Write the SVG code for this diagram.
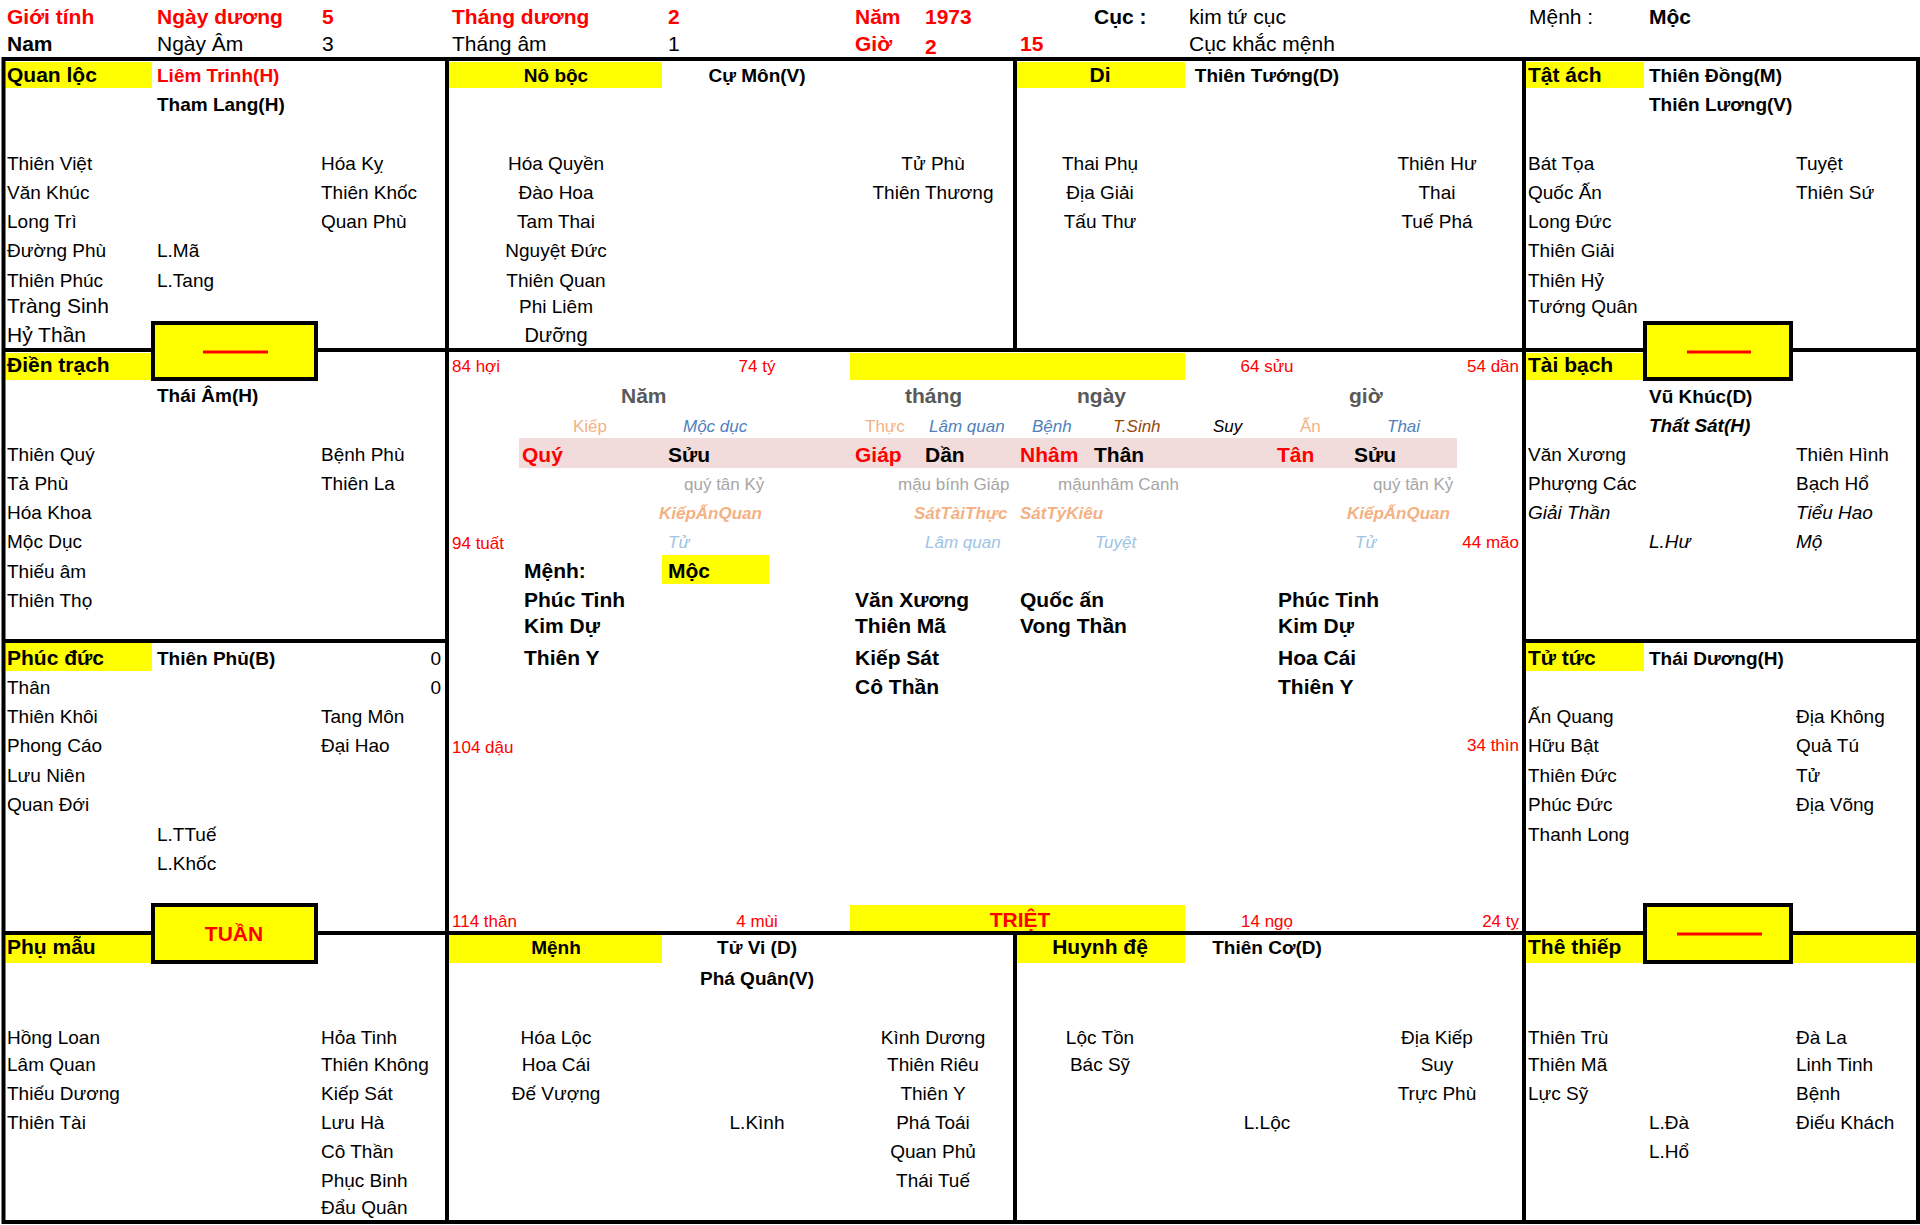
<svg xmlns="http://www.w3.org/2000/svg" width="1920" height="1225" viewBox="0 0 1920 1225">
<style>
text{font-family:"Liberation Sans",Arial,"DejaVu Sans",sans-serif;font-size:19px;fill:#000}
.b{font-weight:bold}
.L{font-size:21px}
.H{font-size:21px}
.s{font-size:17px}
.r{fill:#ff0000}
.c{text-anchor:middle}
.e{text-anchor:end}
.i{font-style:italic}
.g{fill:#595959}
.gl{fill:#a6a6a6}
.or{fill:#f4b183}
.bl{fill:#4f81bd}
.lb{fill:#9dc3e6}
.br{fill:#974706}
.y{fill:#ffff00}
.ln{stroke:#000;stroke-width:4;fill:none}
.bx{fill:#ffff00;stroke:#000;stroke-width:4}
.rl{stroke:#ff0000;stroke-width:3}
</style>
<rect width="1920" height="1225" fill="#fff"/>

<g id="header">
<text class="H b r" x="7" y="24">Giới tính</text>
<text class="H b r" x="157" y="24">Ngày dương</text>
<text class="H b r" x="322" y="24">5</text>
<text class="H b r" x="452" y="24">Tháng dương</text>
<text class="H b r" x="668" y="24">2</text>
<text class="H b r" x="855" y="24">Năm</text>
<text class="H b r" x="925" y="24">1973</text>
<text class="H b" x="1094" y="24">Cục :</text>
<text class="H" x="1189" y="24">kim tứ cục</text>
<text class="H" x="1529" y="24">Mệnh :</text>
<text class="H b" x="1649" y="24">Mộc</text>
<text class="H b" x="7" y="51">Nam</text>
<text class="H" x="157" y="51">Ngày Âm</text>
<text class="H" x="322" y="51">3</text>
<text class="H" x="452" y="51">Tháng âm</text>
<text class="H" x="668" y="51">1</text>
<text class="H b r" x="855" y="51">Giờ</text>
<text class="H b r" x="925" y="54">2</text>
<text class="H b r" x="1020" y="51">15</text>
<text class="H" x="1189" y="51">Cục khắc mệnh</text>
</g>

<g id="label-fills">
<rect class="y" x="5" y="62" width="147" height="26"/>
<rect class="y" x="449" y="62" width="213" height="26"/>
<rect class="y" x="1017" y="62" width="168" height="26"/>
<rect class="y" x="1526" y="62" width="118" height="26"/>
<rect class="y" x="5" y="353" width="147" height="27"/>
<rect class="y" x="850" y="353" width="335" height="27"/>
<rect class="y" x="1526" y="353" width="118" height="27"/>
<rect class="y" x="5" y="643" width="147" height="28"/>
<rect class="y" x="1526" y="643" width="118" height="28"/>
<rect class="y" x="850" y="905" width="335" height="27"/>
<rect class="y" x="5" y="935" width="147" height="28"/>
<rect class="y" x="449" y="935" width="213" height="28"/>
<rect class="y" x="1017" y="935" width="168" height="28"/>
<rect class="y" x="1526" y="935" width="391" height="28"/>
<rect x="519" y="438" width="938" height="30" fill="#f2dcdb"/>
<rect class="y" x="662" y="555" width="107" height="29"/>
</g>

<g id="grid-lines">
<rect class="ln" x="3.5" y="59" width="1914.5" height="1163"/>
<line class="ln" x1="447" y1="59" x2="447" y2="1222"/>
<line class="ln" x1="1524" y1="59" x2="1524" y2="1222"/>
<line class="ln" x1="1015" y1="59" x2="1015" y2="350"/>
<line class="ln" x1="1015" y1="933" x2="1015" y2="1222"/>
<line class="ln" x1="3.5" y1="350" x2="1918" y2="350"/>
<line class="ln" x1="3.5" y1="933" x2="1918" y2="933"/>
<line class="ln" x1="3.5" y1="641" x2="447" y2="641"/>
<line class="ln" x1="1524" y1="641" x2="1918" y2="641"/>
</g>

<g id="box-dientrach">
<rect class="bx" x="153" y="323" width="163" height="56"/>
<line class="rl" x1="203" y1="352" x2="268" y2="352"/>
</g>
<g id="box-taibach">
<rect class="bx" x="1645" y="323" width="146" height="56"/>
<line class="rl" x1="1687" y1="352" x2="1751" y2="352"/>
</g>
<g id="box-tuan">
<rect class="bx" x="153" y="905" width="163" height="57"/>
<text class="H b r c" x="234" y="941">TUẦN</text>
</g>
<g id="box-thethiep">
<rect class="bx" x="1645" y="905" width="146" height="57"/>
<line class="rl" x1="1677" y1="934" x2="1762" y2="934"/>
</g>
<g id="triet">
<text class="H b r c" x="1020" y="927">TRIỆT</text>
</g>

<g id="p-quanloc">
<text class="L b" x="7" y="82">Quan lộc</text>
<text class="b r" x="157" y="82">Liêm Trinh(H)</text>
<text class="b" x="157" y="111">Tham Lang(H)</text>
<text x="7" y="170">Thiên Việt</text>
<text x="7" y="199">Văn Khúc</text>
<text x="7" y="228">Long Trì</text>
<text x="7" y="257">Đường Phù</text>
<text x="7" y="287">Thiên Phúc</text>
<text class="L" x="7" y="313">Tràng Sinh</text>
<text class="L" x="7" y="342">Hỷ Thần</text>
<text x="157" y="257">L.Mã</text>
<text x="157" y="287">L.Tang</text>
<text x="321" y="170">Hóa Kỵ</text>
<text x="321" y="199">Thiên Khốc</text>
<text x="321" y="228">Quan Phù</text>
</g>

<g id="p-noboc">
<text class="b c" x="556" y="82">Nô bộc</text>
<text class="b c" x="757" y="82">Cự Môn(V)</text>
<text class="c" x="556" y="170">Hóa Quyền</text>
<text class="c" x="556" y="199">Đào Hoa</text>
<text class="c" x="556" y="228">Tam Thai</text>
<text class="c" x="556" y="257">Nguyệt Đức</text>
<text class="c" x="556" y="287">Thiên Quan</text>
<text class="c" x="556" y="313">Phi Liêm</text>
<text class="c" x="556" y="342" style="font-size:20px">Dưỡng</text>
<text class="c" x="933" y="170">Tử Phù</text>
<text class="c" x="933" y="199">Thiên Thương</text>
</g>

<g id="p-di">
<text class="L b c" x="1100" y="82">Di</text>
<text class="b c" x="1267" y="82">Thiên Tướng(D)</text>
<text class="c" x="1100" y="170">Thai Phụ</text>
<text class="c" x="1100" y="199">Địa Giải</text>
<text class="c" x="1100" y="228">Tấu Thư</text>
<text class="c" x="1437" y="170">Thiên Hư</text>
<text class="c" x="1437" y="199">Thai</text>
<text class="c" x="1437" y="228">Tuế Phá</text>
</g>

<g id="p-tatach">
<text class="L b" x="1528" y="82">Tật ách</text>
<text class="b" x="1649" y="82">Thiên Đồng(M)</text>
<text class="b" x="1649" y="111">Thiên Lương(V)</text>
<text x="1528" y="170">Bát Tọa</text>
<text x="1528" y="199">Quốc Ấn</text>
<text x="1528" y="228">Long Đức</text>
<text x="1528" y="257">Thiên Giải</text>
<text x="1528" y="287">Thiên Hỷ</text>
<text x="1528" y="313">Tướng Quân</text>
<text x="1796" y="170">Tuyệt</text>
<text x="1796" y="199">Thiên Sứ</text>
</g>

<g id="p-dientrach">
<text class="L b" x="7" y="372">Điền trạch</text>
<text class="b" x="157" y="402">Thái Âm(H)</text>
<text x="7" y="461">Thiên Quý</text>
<text x="7" y="490">Tả Phù</text>
<text x="7" y="519">Hóa Khoa</text>
<text x="7" y="548">Mộc Dục</text>
<text x="7" y="578">Thiếu âm</text>
<text x="7" y="607">Thiên Thọ</text>
<text x="321" y="461">Bệnh Phù</text>
<text x="321" y="490">Thiên La</text>
</g>

<g id="p-taibach">
<text class="L b" x="1528" y="372">Tài bạch</text>
<text class="b" x="1649" y="403">Vũ Khúc(D)</text>
<text class="b i" x="1649" y="432">Thất Sát(H)</text>
<text x="1528" y="461">Văn Xương</text>
<text x="1528" y="490">Phượng Các</text>
<text class="i" x="1528" y="519">Giải Thần</text>
<text class="i" x="1649" y="548">L.Hư</text>
<text x="1796" y="461">Thiên Hình</text>
<text x="1796" y="490">Bạch Hổ</text>
<text class="i" x="1796" y="519">Tiểu Hao</text>
<text class="i" x="1796" y="548">Mộ</text>
</g>

<g id="p-phucduc">
<text class="L b" x="7" y="665">Phúc đức</text>
<text class="b" x="157" y="665">Thiên Phủ(B)</text>
<text class="e" x="441" y="665">0</text>
<text x="7" y="694">Thân</text>
<text class="e" x="441" y="694">0</text>
<text x="7" y="723">Thiên Khôi</text>
<text x="7" y="752">Phong Cáo</text>
<text x="7" y="782">Lưu Niên</text>
<text x="7" y="811">Quan Đới</text>
<text x="157" y="841">L.TTuế</text>
<text x="157" y="870">L.Khốc</text>
<text x="321" y="723">Tang Môn</text>
<text x="321" y="752">Đại Hao</text>
</g>

<g id="p-tutuc">
<text class="L b" x="1528" y="665">Tử tức</text>
<text class="b" x="1649" y="665">Thái Dương(H)</text>
<text x="1528" y="723">Ấn Quang</text>
<text x="1528" y="752">Hữu Bật</text>
<text x="1528" y="782">Thiên Đức</text>
<text x="1528" y="811">Phúc Đức</text>
<text x="1528" y="841">Thanh Long</text>
<text x="1796" y="723">Địa Không</text>
<text x="1796" y="752">Quả Tú</text>
<text x="1796" y="782">Tử</text>
<text x="1796" y="811">Địa Võng</text>
</g>

<g id="p-phumau">
<text class="L b" x="7" y="954">Phụ mẫu</text>
<text x="7" y="1044">Hồng Loan</text>
<text x="7" y="1071">Lâm Quan</text>
<text x="7" y="1100">Thiếu Dương</text>
<text x="7" y="1129">Thiên Tài</text>
<text x="321" y="1044">Hỏa Tinh</text>
<text x="321" y="1071">Thiên Không</text>
<text x="321" y="1100">Kiếp Sát</text>
<text x="321" y="1129">Lưu Hà</text>
<text x="321" y="1158">Cô Thần</text>
<text x="321" y="1187">Phục Binh</text>
<text x="321" y="1214">Đẩu Quân</text>
</g>

<g id="p-menh">
<text class="b c" x="556" y="954">Mệnh</text>
<text class="b c" x="757" y="954">Tử Vi (D)</text>
<text class="b c" x="757" y="985">Phá Quân(V)</text>
<text class="c" x="556" y="1044">Hóa Lộc</text>
<text class="c" x="556" y="1071">Hoa Cái</text>
<text class="c" x="556" y="1100">Đế Vượng</text>
<text class="c" x="757" y="1129">L.Kình</text>
<text class="c" x="933" y="1044">Kình Dương</text>
<text class="c" x="933" y="1071">Thiên Riêu</text>
<text class="c" x="933" y="1100">Thiên Y</text>
<text class="c" x="933" y="1129">Phá Toái</text>
<text class="c" x="933" y="1158">Quan Phủ</text>
<text class="c" x="933" y="1187">Thái Tuế</text>
</g>

<g id="p-huynhde">
<text class="L b c" x="1100" y="954">Huynh đệ</text>
<text class="b c" x="1267" y="954">Thiên Cơ(D)</text>
<text class="c" x="1100" y="1044">Lộc Tồn</text>
<text class="c" x="1100" y="1071">Bác Sỹ</text>
<text class="c" x="1267" y="1129">L.Lộc</text>
<text class="c" x="1437" y="1044">Địa Kiếp</text>
<text class="c" x="1437" y="1071">Suy</text>
<text class="c" x="1437" y="1100">Trực Phù</text>
</g>

<g id="p-thethiep">
<text class="L b" x="1528" y="954">Thê thiếp</text>
<text x="1528" y="1044">Thiên Trù</text>
<text x="1528" y="1071">Thiên Mã</text>
<text x="1528" y="1100">Lực Sỹ</text>
<text x="1649" y="1129">L.Đà</text>
<text x="1649" y="1158">L.Hổ</text>
<text x="1796" y="1044">Đà La</text>
<text x="1796" y="1071">Linh Tinh</text>
<text x="1796" y="1100">Bệnh</text>
<text x="1796" y="1129">Điếu Khách</text>
</g>

<g id="center">
<text class="s r" x="452" y="372">84 hợi</text>
<text class="s r c" x="757" y="372">74 tý</text>
<text class="s r c" x="1267" y="372">64 sửu</text>
<text class="s r e" x="1519" y="372">54 dần</text>
<text class="s r" x="452" y="549">94 tuất</text>
<text class="s r e" x="1519" y="548">44 mão</text>
<text class="s r" x="452" y="753">104 dậu</text>
<text class="s r e" x="1519" y="751">34 thìn</text>
<text class="s r" x="452" y="927">114 thân</text>
<text class="s r c" x="757" y="927">4 mùi</text>
<text class="s r c" x="1267" y="927">14 ngọ</text>
<text class="s r e" x="1519" y="927">24 tỵ</text>

<text class="L b g" x="621" y="403">Năm</text>
<text class="L b g" x="905" y="403">tháng</text>
<text class="L b g" x="1077" y="403">ngày</text>
<text class="L b g" x="1349" y="403">giờ</text>

<text class="s or" x="573" y="432">Kiếp</text>
<text class="s i bl" x="683" y="432">Mộc dục</text>
<text class="s or" x="865" y="432">Thực</text>
<text class="s i bl" x="929" y="432">Lâm quan</text>
<text class="s i bl" x="1032" y="432">Bệnh</text>
<text class="s i br" x="1113" y="432">T.Sinh</text>
<text class="s i" x="1213" y="432">Suy</text>
<text class="s or" x="1300" y="432">Ấn</text>
<text class="s i bl" x="1387" y="432">Thai</text>

<text class="L b r" x="522" y="462">Quý</text>
<text class="L b" x="668" y="462">Sửu</text>
<text class="L b r" x="855" y="462">Giáp</text>
<text class="L b" x="925" y="462">Dần</text>
<text class="L b r" x="1020" y="462">Nhâm</text>
<text class="L b" x="1094" y="462">Thân</text>
<text class="L b r" x="1277" y="462">Tân</text>
<text class="L b" x="1354" y="462">Sửu</text>

<text class="s gl" x="684" y="490">quý tân Kỷ</text>
<text class="s gl" x="898" y="490">mậu bính Giáp</text>
<text class="s gl" x="1058" y="490">mậunhâm Canh</text>
<text class="s gl" x="1373" y="490">quý tân Kỷ</text>

<text class="s b i or" x="659" y="519">KiếpẤnQuan</text>
<text class="s b i or" x="914" y="519">SátTàiThực</text>
<text class="s b i or" x="1020" y="519">SátTỷKiêu</text>
<text class="s b i or" x="1347" y="519">KiếpẤnQuan</text>

<text class="s i lb" x="668" y="548">Tử</text>
<text class="s i lb" x="925" y="548">Lâm quan</text>
<text class="s i lb" x="1095" y="548">Tuyệt</text>
<text class="s i lb" x="1355" y="548">Tử</text>

<text class="L b" x="524" y="578">Mệnh:</text>
<text class="L b" x="668" y="578">Mộc</text>

<text class="L b" x="524" y="607">Phúc Tinh</text>
<text class="L b" x="524" y="633">Kim Dự</text>
<text class="L b" x="524" y="665">Thiên Y</text>
<text class="L b" x="855" y="607">Văn Xương</text>
<text class="L b" x="855" y="633">Thiên Mã</text>
<text class="L b" x="855" y="665">Kiếp Sát</text>
<text class="L b" x="855" y="694">Cô Thần</text>
<text class="L b" x="1020" y="607">Quốc ấn</text>
<text class="L b" x="1020" y="633">Vong Thần</text>
<text class="L b" x="1278" y="607">Phúc Tinh</text>
<text class="L b" x="1278" y="633">Kim Dự</text>
<text class="L b" x="1278" y="665">Hoa Cái</text>
<text class="L b" x="1278" y="694">Thiên Y</text>
</g>
</svg>
